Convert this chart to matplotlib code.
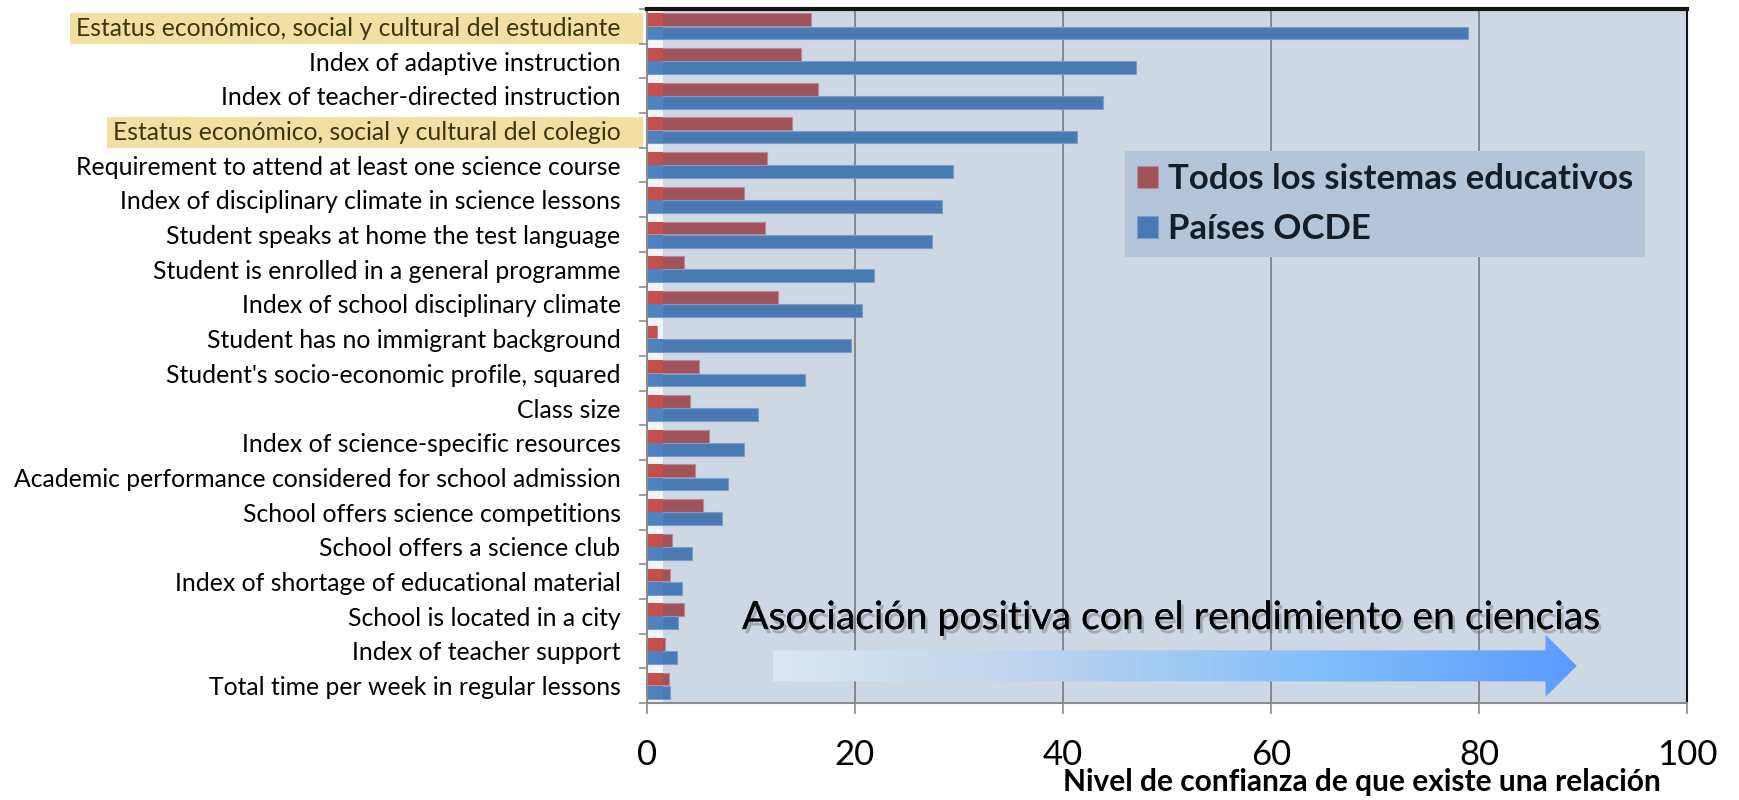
import numpy as np
import matplotlib
matplotlib.use("Agg")
import matplotlib.pyplot as plt
import matplotlib.patheffects as pe
from matplotlib.patches import Polygon, Rectangle

plt.rcParams['font.family'] = ['Lato', 'DejaVu Sans']

labels = [
    "Estatus económico, social y cultural del estudiante",
    "Index of adaptive instruction",
    "Index of teacher-directed instruction",
    "Estatus económico, social y cultural del colegio",
    "Requirement to attend at least one science course",
    "Index of disciplinary climate in science lessons",
    "Student speaks at home the test language",
    "Student is enrolled in a general programme",
    "Index of school disciplinary climate",
    "Student has no immigrant background",
    "Student's socio-economic profile, squared",
    "Class size",
    "Index of science-specific resources",
    "Academic performance considered for school admission",
    "School offers science competitions",
    "School offers a science club",
    "Index of shortage of educational material",
    "School is located in a city",
    "Index of teacher support",
    "Total time per week in regular lessons",
]
todos = [15.8, 14.8, 16.4, 13.9, 11.5, 9.3, 11.3, 3.6, 12.6, 1.0,
         5.0, 4.1, 6.0, 4.6, 5.4, 2.4, 2.2, 3.6, 1.7, 2.1]
ocde = [78.9, 47.0, 43.8, 41.3, 29.4, 28.4, 27.4, 21.8, 20.7, 19.6,
        15.2, 10.7, 9.3, 7.8, 7.2, 4.3, 3.4, 3.0, 2.9, 2.2]
highlighted = [0, 3]
xticks = [0, 20, 40, 60, 80, 100]

n = len(labels)
y = np.arange(n)
h = 0.37

fig = plt.figure(figsize=(17.39, 8.0), dpi=100)
ax = fig.add_axes([647 / 1739, 1 - 703 / 800, 1040 / 1739, 694 / 800])
ax.set_facecolor('#CED8E4')

# pale strip next to the axis (3D-ish look of the original)
ax.axvspan(0, 1.5, color='white', alpha=0.75, lw=0, zorder=0.5)

for v in xticks[1:-1]:
    ax.axvline(v, color='#86898E', lw=1.4, zorder=1)

ax.barh(y - 0.19, todos, height=h, color='#A0525B', edgecolor='#B98A92', lw=0.8,
        zorder=2, label='Todos los sistemas educativos')
ax.barh(y + 0.19, ocde, height=h, color='#4A7AB3', edgecolor='#7C9DC8', lw=0.8,
        zorder=2, label='Países OCDE')
ax.barh(y - 0.19, np.minimum(todos, 1.5), height=h, color='#C4504E', lw=0, zorder=2.1)
ax.barh(y + 0.19, np.minimum(ocde, 1.5), height=h, color='#4F82C0', lw=0, zorder=2.1)

ax.set_xlim(0, 100)
ax.set_ylim(n - 0.5, -0.5)
ax.set_xticks(xticks)
ax.set_yticks(y)
ax.set_yticklabels(labels)
ax.set_yticks(np.arange(-0.5, n, 1), minor=True)
ax.tick_params(axis='y', which='major', length=0, pad=19, labelsize=17.8)
ax.tick_params(axis='y', which='minor', length=6, width=1.2, color='#8C8C8C')
ax.tick_params(axis='x', length=8, width=1.2, color='#8C8C8C', pad=18, labelsize=25)

for s in ['left', 'bottom']:
    ax.spines[s].set_color('#8C8C8C')
    ax.spines[s].set_linewidth(1.5)
ax.spines['top'].set_color('#151515')
ax.spines['top'].set_linewidth(3)
ax.spines['right'].set_color('#151515')
ax.spines['right'].set_linewidth(1.5)

ax.set_xlabel('Nivel de confianza de que existe una relación', fontsize=21.5,
              fontweight='bold', va='center')
ax.xaxis.set_label_coords(0.6875, -0.114)

leg = ax.legend(loc='upper right', bbox_to_anchor=(0.96, 0.795),
                prop={'weight': 'bold', 'size': 25}, frameon=True, fancybox=False,
                facecolor='#B4C5DB', edgecolor='none', framealpha=1,
                handlelength=0.6, handleheight=0.6, handletextpad=0.3,
                labelspacing=0.5, borderpad=0.35, borderaxespad=0)
for t in leg.get_texts():
    t.set_color('#161C28')

# gradient arrow
ax_y0, half_body, half_head = 18.43, 0.447, 0.893
x0, x_head, x_tip = 12.1, 86.4, 89.4
verts = [(x0, ax_y0 - half_body), (x_head, ax_y0 - half_body), (x_head, ax_y0 - half_head),
         (x_tip, ax_y0), (x_head, ax_y0 + half_head), (x_head, ax_y0 + half_body),
         (x0, ax_y0 + half_body)]
arrow = Polygon(verts, closed=True, facecolor='none', edgecolor='none', zorder=3)
ax.add_patch(arrow)
grad = np.linspace(0, 1, 256).reshape(1, -1)
cmap = matplotlib.colors.LinearSegmentedColormap.from_list(
    'arr', ['#DCE6F2', '#BCD3EE', '#84C0FB', '#5B9BFF'])
im = ax.imshow(grad, cmap=cmap, aspect='auto', zorder=3,
               extent=(x0, x_tip, ax_y0 + half_head, ax_y0 - half_head))
im.set_clip_path(arrow)
ax.set_xlim(0, 100)
ax.set_ylim(n - 0.5, -0.5)

ax.text(9.13, 17.37, 'Asociación positiva con el rendimiento en ciencias', fontsize=28.2,
        ha='left', va='baseline', color='black', zorder=4,
        path_effects=[pe.withSimplePatchShadow(offset=(2, -3), shadow_rgbFace='#555555',
                                               alpha=0.35), pe.Normal()])

# highlight boxes behind two tick labels
fig.canvas.draw()
renderer = fig.canvas.get_renderer()
axis_px = ax.transAxes.transform((0, 0))[0]
for i in highlighted:
    lab = ax.get_yticklabels()[i]
    lab.set_color('#3D3512')
    bb = lab.get_window_extent(renderer)
    cy = (bb.y0 + bb.y1) / 2
    rect = Rectangle((bb.x0 - 6, cy - 15.5), axis_px - 4 - (bb.x0 - 6), 31,
                     transform=None, facecolor='#F4DFA2', edgecolor='none', zorder=-1)
    fig.patches.append(rect)

fig.savefig('out.png', dpi=100)
